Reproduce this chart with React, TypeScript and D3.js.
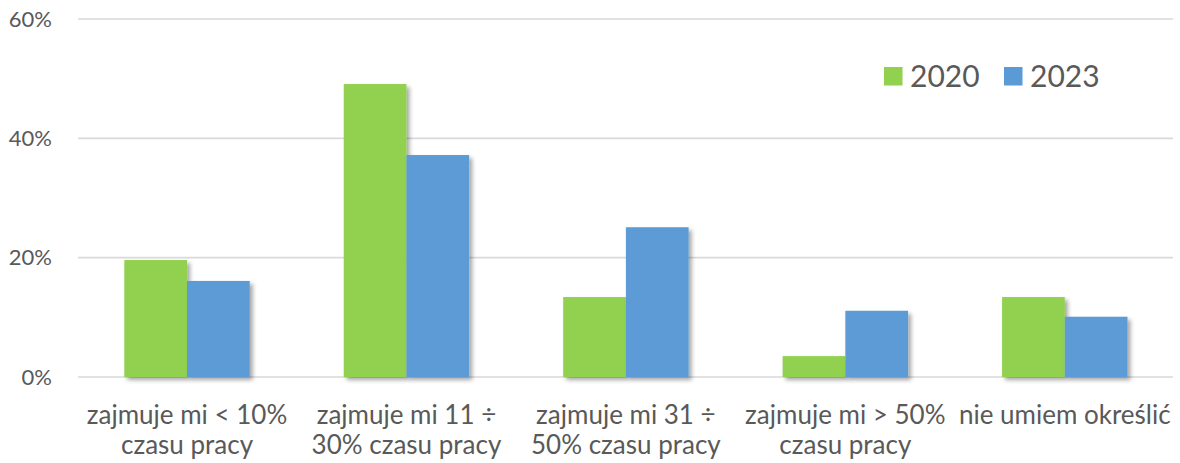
import React from "react";
import * as d3 from "d3";

const categories: string[][] = [
  ["zajmuje mi < 10%", "czasu pracy"],
  ["zajmuje mi 11 ÷", "30% czasu pracy"],
  ["zajmuje mi 31 ÷", "50% czasu pracy"],
  ["zajmuje mi > 50%", "czasu pracy"],
  ["nie umiem określić"],
];
const seriesNames = ["2020", "2023"];
const values2020 = [0.196, 0.491, 0.134, 0.035, 0.134];
const values2023 = [0.161, 0.372, 0.251, 0.111, 0.101];
const yTicks = [0, 0.2, 0.4, 0.6];
const colors = ["#92D050", "#5B9BD5"];

const W = 1180;
const H = 463;
const FONT = "Lato, 'Open Sans', sans-serif";

export default function App() {
  const left = 77.3;
  const right = 1174.5;
  const y = d3.scaleLinear().domain([0, 0.6]).range([377, 19]);
  const x0 = d3
    .scaleBand<number>()
    .domain(categories.map((_, i) => i))
    .range([left, right])
    .paddingInner(0.4285)
    .paddingOuter(0.21425);
  const x1 = d3.scaleBand<number>().domain([0, 1]).range([0, x0.bandwidth()]);
  const series = [values2020, values2023];

  return (
    <svg width={W} height={H} style={{ position: "absolute", left: 0, top: 0 }}>
      <defs>
        <filter id="sh" x="-20%" y="-20%" width="150%" height="150%">
          <feDropShadow dx="3" dy="3" stdDeviation="2.2" floodColor="#000" floodOpacity="0.35" />
        </filter>
      </defs>
      <rect width={W} height={H} fill="#fff" />
      {yTicks.map((t) => (
        <g key={t}>
          <line x1={78} x2={1173} y1={y(t)} y2={y(t)} stroke="#d9d9d9" strokeWidth={1.6} />
          <text
            x={52}
            y={y(t)}
            dy="0.35em"
            textAnchor="end"
            fontFamily={FONT}
            fontSize={22}
            fill="#595959"
          >
            {d3.format(".0%")(t)}
          </text>
        </g>
      ))}
      {categories.map((cat, i) =>
        series.map((vals, s) => (
          <rect
            key={`${i}-${s}`}
            x={(x0(i) as number) + (x1(s) as number)}
            y={y(vals[i])}
            width={x1.bandwidth()}
            height={y(0) - y(vals[i])}
            fill={colors[s]}
            filter="url(#sh)"
          />
        ))
      )}
      {categories.map((cat, i) => (
        <text
          key={i}
          textAnchor="middle"
          fontFamily={FONT}
          fontSize={26}
          fill="#595959"
        >
          {cat.map((line, j) => (
            <tspan key={j} x={(x0(i) as number) + x0.bandwidth() / 2} y={424 + j * 30}>
              {line}
            </tspan>
          ))}
        </text>
      ))}
      {seriesNames.map((name, s) => (
        <g key={name} transform={`translate(${884 + s * 120},0)`}>
          <rect x={0} y={67} width={18.5} height={18.5} fill={colors[s]} />
          <text x={26} y={76} dy="0.36em" fontFamily={FONT} fontSize={30} fill="#595959">
            {name}
          </text>
        </g>
      ))}
    </svg>
  );
}
